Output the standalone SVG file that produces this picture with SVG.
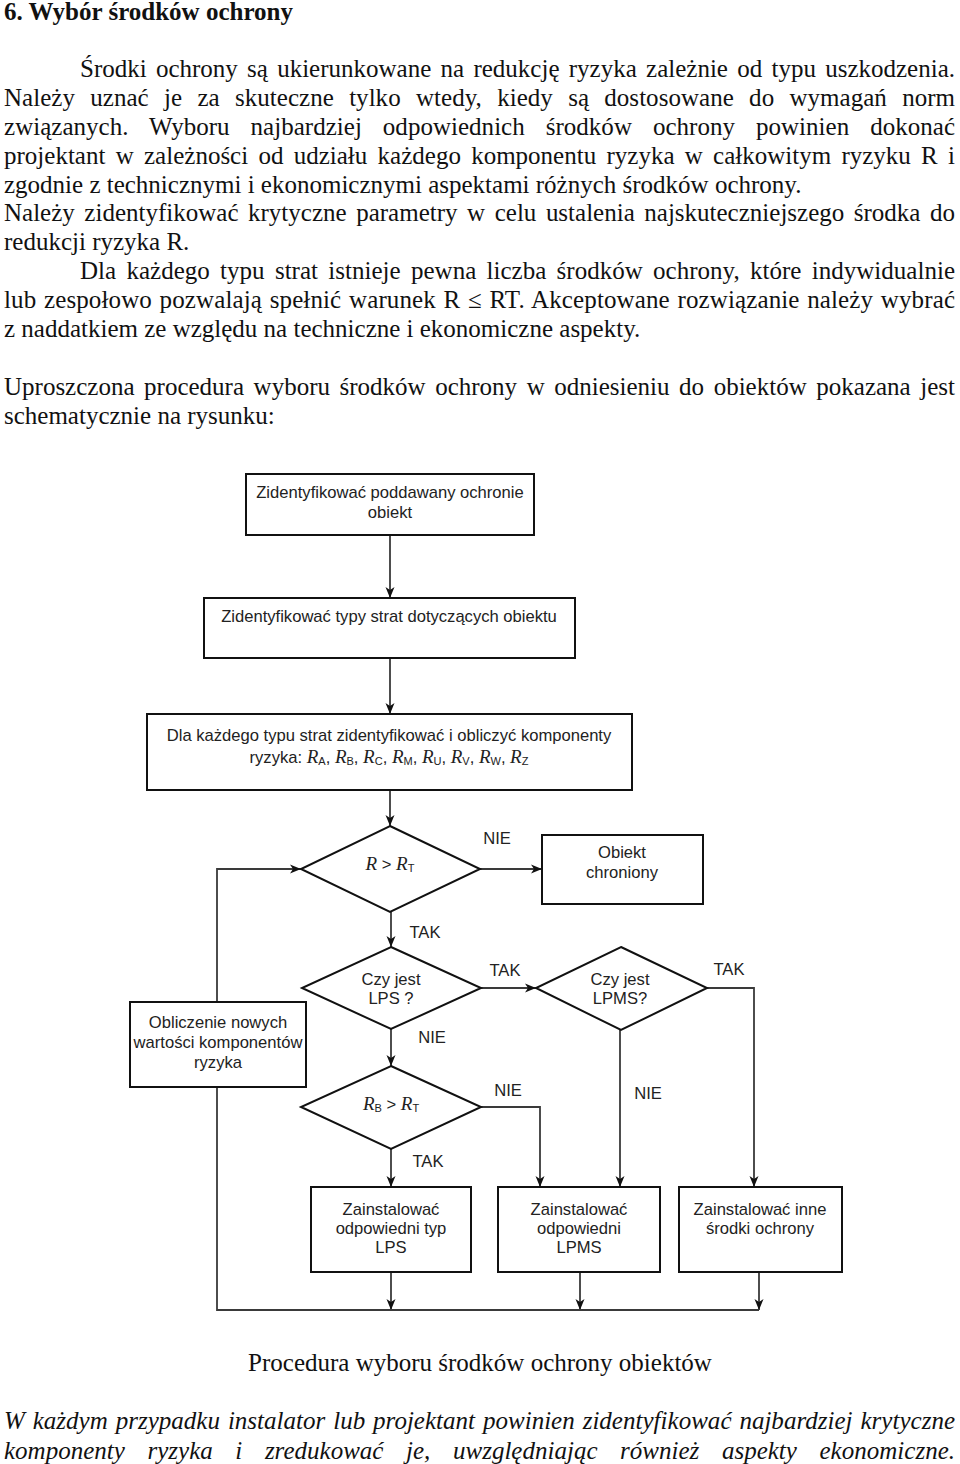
<svg xmlns="http://www.w3.org/2000/svg" width="960" height="1464" viewBox="0 0 960 1464">
<defs>
<style>
.body{font-family:"Liberation Serif","Times New Roman",serif;font-size:25px;fill:#111}
.bold{font-weight:bold}
.it{font-style:italic}
.fc{font-family:"Liberation Sans",Arial,sans-serif;font-size:16.6px;fill:#222;text-anchor:middle}
.ri{font-family:"Liberation Serif","Times New Roman",serif;font-style:italic;font-size:19px}
.sb{font-size:11px}
.box{fill:#fff;stroke:#111;stroke-width:2}
.conn{fill:none;stroke:#3a3a3a;stroke-width:1.8}
</style>
<marker id="ah" markerWidth="12" markerHeight="12" refX="11" refY="6" orient="auto" markerUnits="userSpaceOnUse">
<path d="M0,1.5 L11,6 L0,10.5 L3,6 z" fill="#111"/>
</marker>
</defs>
<rect width="960" height="1464" fill="#fff"/>

<g id="body-text">
<text class="body bold" x="4" y="20">6. Wybór środków ochrony</text>
<text class="body" x="80" y="77" word-spacing="3" textLength="875" lengthAdjust="spacing">Środki ochrony są ukierunkowane na redukcję ryzyka zależnie od typu uszkodzenia.</text>
<text class="body" x="4" y="106" word-spacing="9" textLength="951" lengthAdjust="spacing">Należy uznać je za skuteczne tylko wtedy, kiedy są dostosowane do wymagań norm</text>
<text class="body" x="4" y="135" word-spacing="14.7" textLength="951" lengthAdjust="spacing">związanych. Wyboru najbardziej odpowiednich środków ochrony powinien dokonać</text>
<text class="body" x="4" y="164" word-spacing="4" textLength="951" lengthAdjust="spacing">projektant w zależności od udziału każdego komponentu ryzyka w całkowitym ryzyku R i</text>
<text class="body" x="4" y="193">zgodnie z technicznymi i ekonomicznymi aspektami różnych środków ochrony.</text>
<text class="body" x="4" y="221" word-spacing="3.3" textLength="951" lengthAdjust="spacing">Należy zidentyfikować krytyczne parametry w celu ustalenia najskuteczniejszego środka do</text>
<text class="body" x="4" y="250">redukcji ryzyka R.</text>
<text class="body" x="80" y="279" word-spacing="4" textLength="875" lengthAdjust="spacing">Dla każdego typu strat istnieje pewna liczba środków ochrony, które indywidualnie</text>
<text class="body" x="4" y="308" word-spacing="1.3" textLength="951" lengthAdjust="spacing">lub zespołowo pozwalają spełnić warunek R ≤ RT. Akceptowane rozwiązanie należy wybrać</text>
<text class="body" x="4" y="337">z naddatkiem ze względu na techniczne i ekonomiczne aspekty.</text>
<text class="body" x="4" y="395" word-spacing="3.3" textLength="951" lengthAdjust="spacing">Uproszczona procedura wyboru środków ochrony w odniesieniu do obiektów pokazana jest</text>
<text class="body" x="4" y="424">schematycznie na rysunku:</text>
<text class="body" x="480" y="1371" text-anchor="middle">Procedura wyboru środków ochrony obiektów</text>
<text class="body it" x="4" y="1429" word-spacing="1.6" textLength="951" lengthAdjust="spacing">W każdym przypadku instalator lub projektant powinien zidentyfikować najbardziej krytyczne</text>
<text class="body it" x="4" y="1459" word-spacing="16.3" textLength="951" lengthAdjust="spacing">komponenty ryzyka i zredukować je, uwzględniając również aspekty ekonomiczne.</text>
</g>

<g id="connectors">
<path class="conn" d="M390,535 V598" marker-end="url(#ah)"/>
<path class="conn" d="M390,658 V714" marker-end="url(#ah)"/>
<path class="conn" d="M390,790 V826" marker-end="url(#ah)"/>
<path class="conn" d="M480,869 H542" marker-end="url(#ah)"/>
<path class="conn" d="M391,912 V947" marker-end="url(#ah)"/>
<path class="conn" d="M481,988 H536" marker-end="url(#ah)"/>
<path class="conn" d="M707,988 H754 V1187" marker-end="url(#ah)"/>
<path class="conn" d="M620,1030 V1187" marker-end="url(#ah)"/>
<path class="conn" d="M391,1029 V1066" marker-end="url(#ah)"/>
<path class="conn" d="M481,1107 H540 V1187" marker-end="url(#ah)"/>
<path class="conn" d="M391,1149 V1187" marker-end="url(#ah)"/>
<path class="conn" d="M391,1272 V1310" marker-end="url(#ah)"/>
<path class="conn" d="M580,1272 V1310" marker-end="url(#ah)"/>
<path class="conn" d="M759,1272 V1310" marker-end="url(#ah)"/>
<path class="conn" d="M759,1310 H217 V1087"/>
<path class="conn" d="M217,1002 V869 H301" marker-end="url(#ah)"/>
<g class="fc">
<text x="497" y="844">NIE</text>
<text x="425" y="938">TAK</text>
<text x="505" y="976">TAK</text>
<text x="729" y="975">TAK</text>
<text x="432" y="1043">NIE</text>
<text x="508" y="1096">NIE</text>
<text x="648" y="1099">NIE</text>
<text x="428" y="1167">TAK</text>
</g>
</g>

<g id="n-identify-object">
<rect class="box" x="246" y="474" width="288" height="61"/>
<text class="fc" x="390" y="498">Zidentyfikować poddawany ochronie</text>
<text class="fc" x="390" y="518">obiekt</text>
</g>
<g id="n-identify-losses">
<rect class="box" x="204" y="598" width="371" height="60"/>
<text class="fc" x="389" y="622">Zidentyfikować typy strat dotyczących obiektu</text>
</g>
<g id="n-compute-components">
<rect class="box" x="147" y="714" width="485" height="76"/>
<text class="fc" x="389" y="741">Dla każdego typu strat zidentyfikować i obliczyć komponenty</text>
<text class="fc" x="389" y="763">ryzyka: <tspan class="ri">R</tspan><tspan class="sb" dy="2">A</tspan><tspan dy="-2">, </tspan><tspan class="ri">R</tspan><tspan class="sb" dy="2">B</tspan><tspan dy="-2">, </tspan><tspan class="ri">R</tspan><tspan class="sb" dy="2">C</tspan><tspan dy="-2">, </tspan><tspan class="ri">R</tspan><tspan class="sb" dy="2">M</tspan><tspan dy="-2">, </tspan><tspan class="ri">R</tspan><tspan class="sb" dy="2">U</tspan><tspan dy="-2">, </tspan><tspan class="ri">R</tspan><tspan class="sb" dy="2">V</tspan><tspan dy="-2">, </tspan><tspan class="ri">R</tspan><tspan class="sb" dy="2">W</tspan><tspan dy="-2">, </tspan><tspan class="ri">R</tspan><tspan class="sb" dy="2">Z</tspan></text>
</g>
<g id="n-check-r">
<polygon class="box" points="390,826 480,869 390,912 301,869"/>
<text class="fc" x="390" y="870"><tspan class="ri">R</tspan> &gt; <tspan class="ri">R</tspan><tspan class="sb" dy="2">T</tspan></text>
</g>
<g id="n-protected">
<rect class="box" x="542" y="835" width="161" height="69"/>
<text class="fc" x="622" y="858">Obiekt</text>
<text class="fc" x="622" y="878">chroniony</text>
</g>
<g id="n-check-lps">
<polygon class="box" points="391,947 481,988 391,1029 302,988"/>
<text class="fc" x="391" y="985">Czy jest</text>
<text class="fc" x="391" y="1004">LPS ?</text>
</g>
<g id="n-check-lpms">
<polygon class="box" points="621,947 707,988 621,1030 536,988"/>
<text class="fc" x="620" y="985">Czy jest</text>
<text class="fc" x="620" y="1004">LPMS?</text>
</g>
<g id="n-recompute">
<rect class="box" x="130" y="1002" width="176" height="85"/>
<text class="fc" x="218" y="1028">Obliczenie nowych</text>
<text class="fc" x="218" y="1048">wartości komponentów</text>
<text class="fc" x="218" y="1068">ryzyka</text>
</g>
<g id="n-check-rb">
<polygon class="box" points="391,1066 481,1107 391,1149 301,1107"/>
<text class="fc" x="391" y="1110"><tspan class="ri">R</tspan><tspan class="sb" dy="2">B</tspan><tspan dy="-2"> &gt; </tspan><tspan class="ri">R</tspan><tspan class="sb" dy="2">T</tspan></text>
</g>
<g id="n-install-lps">
<rect class="box" x="311" y="1187" width="160" height="85"/>
<text class="fc" x="391" y="1215">Zainstalować</text>
<text class="fc" x="391" y="1234">odpowiedni typ</text>
<text class="fc" x="391" y="1253">LPS</text>
</g>
<g id="n-install-lpms">
<rect class="box" x="498" y="1187" width="162" height="85"/>
<text class="fc" x="579" y="1215">Zainstalować</text>
<text class="fc" x="579" y="1234">odpowiedni</text>
<text class="fc" x="579" y="1253">LPMS</text>
</g>
<g id="n-install-other">
<rect class="box" x="679" y="1187" width="163" height="85"/>
<text class="fc" x="760" y="1215">Zainstalować inne</text>
<text class="fc" x="760" y="1234">środki ochrony</text>
</g>
</svg>
